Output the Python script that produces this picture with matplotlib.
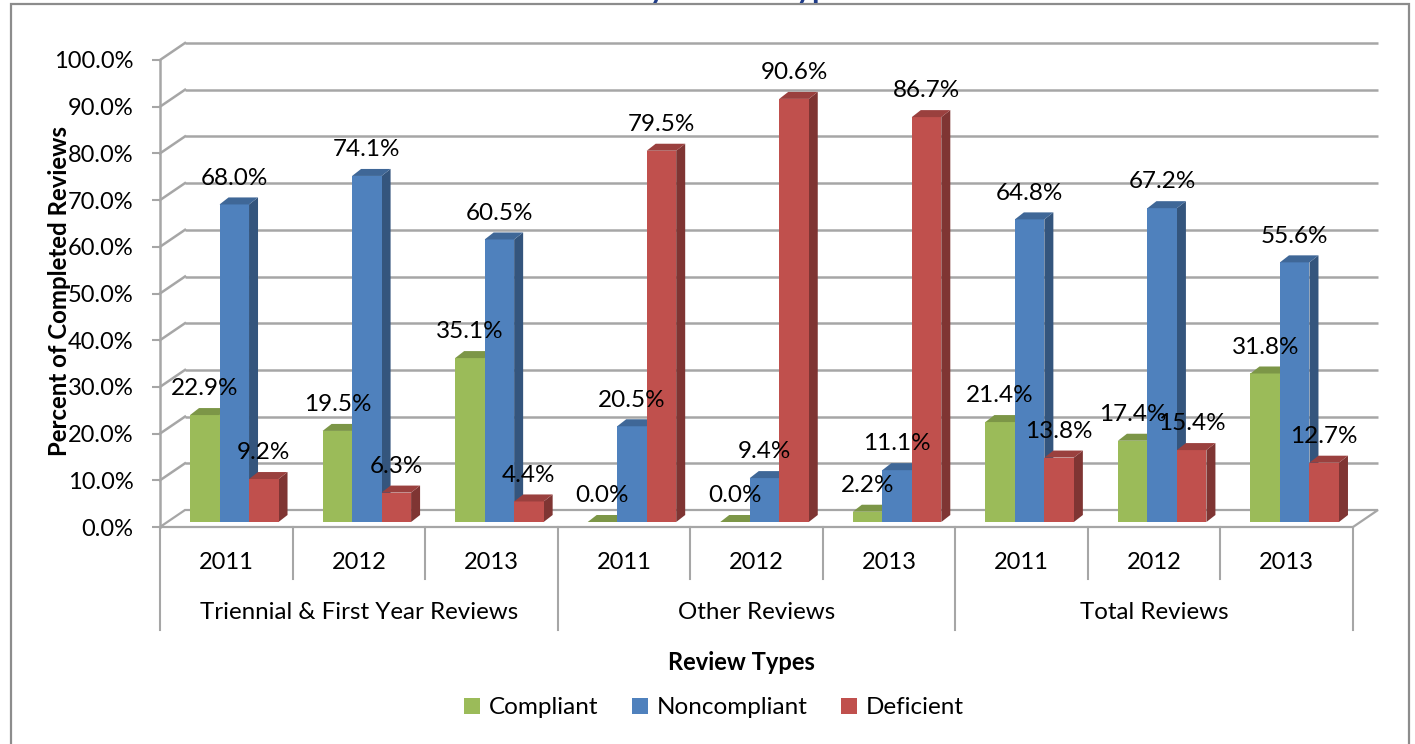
import matplotlib.pyplot as plt
from matplotlib.patches import Polygon, Patch, Rectangle
from matplotlib.ticker import PercentFormatter
from matplotlib.colors import to_rgb

plt.rcParams['font.family'] = ['Lato', 'DejaVu Sans']

# data
title = 'Review Results by Review Type'
groups = ['Triennial & First Year Reviews', 'Other Reviews', 'Total Reviews']
years = ['2011', '2012', '2013']
series = ['Compliant', 'Noncompliant', 'Deficient']
compliant = [22.9, 19.5, 35.1, 0.0, 0.0, 2.2, 21.4, 17.4, 31.8]
noncompliant = [68.0, 74.1, 60.5, 20.5, 9.4, 11.1, 64.8, 67.2, 55.6]
deficient = [9.2, 6.3, 4.4, 79.5, 90.6, 86.7, 13.8, 15.4, 12.7]
colors = ['#9BBB59', '#4F81BD', '#C0504D']

W, H = 1415, 744
fig = plt.figure(figsize=(W / 100, H / 100), dpi=100)
ax = fig.add_axes([160 / W, 217 / H, 1193 / W, 467 / H])
ax.set_xlim(0, 9)
ax.set_ylim(0, 100)

ux = 9 / 1193     # data units per pixel, x
uy = 100 / 467    # data units per pixel, y
wdx, wdy = 25 * ux, 17 * uy     # wall depth
bdx, bdy = 8 * ux, 5 * uy       # bar front offset
ddx, ddy = 9 * ux, 7 * uy       # bar depth
bw = 29.5 * ux

grid_c = '#a6a6a6'

# floor
floor = Polygon([(0, 0), (9, 0), (9 + wdx, wdy), (wdx, wdy)], closed=True,
                fc='white', ec=grid_c, lw=1.6, clip_on=False, zorder=1)
ax.add_patch(floor)
# back and side wall gridlines
for v in range(10, 101, 10):
    ax.plot([wdx, 9 + wdx], [v + wdy, v + wdy], color=grid_c, lw=1.8,
            clip_on=False, zorder=1, solid_capstyle='butt')
    ax.plot([0, wdx], [v, v + wdy], color=grid_c, lw=1.8, clip_on=False, zorder=1)


def shade(c, f):
    r, g, b = to_rgb(c)
    return (r * f, g * f, b * f)


values = [compliant, noncompliant, deficient]
z = 2
for i in range(9):
    for j, vals in enumerate(values):
        h = vals[i]
        x0 = i + 0.5 - 1.5 * bw + j * bw + bdx
        y0 = bdy
        c = colors[j]
        front = Polygon([(x0, y0), (x0 + bw, y0), (x0 + bw, y0 + h), (x0, y0 + h)],
                        fc=c, ec='none', zorder=z, clip_on=False)
        side = Polygon([(x0 + bw, y0), (x0 + bw + ddx, y0 + ddy),
                        (x0 + bw + ddx, y0 + h + ddy), (x0 + bw, y0 + h)],
                       fc=shade(c, 0.66), ec='none', zorder=z, clip_on=False)
        top = Polygon([(x0, y0 + h), (x0 + bw, y0 + h), (x0 + bw + ddx, y0 + h + ddy),
                       (x0 + ddx, y0 + h + ddy)],
                      fc=shade(c, 0.8), ec='none', zorder=z, clip_on=False)
        for p in (side, front, top):
            ax.add_patch(p)
        z += 1
        ax.text(x0 + bw / 2, h + 5.3, f'{h:.1f}%', ha='center', va='baseline',
                fontsize=17.5, color='black', zorder=100, clip_on=False)

# axes styling
for s in ['top', 'right', 'bottom']:
    ax.spines[s].set_visible(False)
ax.spines['left'].set_color(grid_c)
ax.spines['left'].set_linewidth(1.8)
ax.spines['left'].set_zorder(1)
ax.set_yticks(range(0, 101, 10))
ax.yaxis.set_major_formatter(PercentFormatter(decimals=1))
ax.tick_params(axis='y', direction='out', length=6, width=1.5, color=grid_c,
               labelsize=17, pad=13)
ax.set_xticks([])
ax.patch.set_visible(False)

# category axis
for k in range(10):
    bottom = -22.1 if k % 3 == 0 else -11.1
    ax.plot([k, k], [0, bottom], color=grid_c, lw=1.5, clip_on=False, zorder=1)
for i in range(9):
    ax.text(i + 0.5, -7.5, years[i % 3], ha='center', va='center', fontsize=17,
            clip_on=False)
for g, name in enumerate(groups):
    ax.text(g * 3 + 1.5, -18.4, name, ha='center', va='center', fontsize=17.4,
            clip_on=False)

ax.text((741 - 160) * ux, -29.1, 'Review Types', ha='center', va='center',
        fontsize=17, fontweight='bold', clip_on=False)
ax.text((60 - 160) * ux, 50.5, 'Percent of Completed Reviews', rotation=90,
        ha='center', va='center', fontsize=17.3, fontweight='bold', clip_on=False)

handles = [Patch(fc=c, ec='none') for c in colors]
fig.legend(handles, series, loc='center', bbox_to_anchor=(714 / W, 1 - 708 / H),
           ncol=3, frameon=False, fontsize=17.5, handlelength=0.65, handleheight=0.65,
           handletextpad=0.35, columnspacing=1.4)

# chart title sits above the visible area, only its descenders show
fig.text(634 / W, 1 + 2 / H, title, ha='center', va='baseline', fontsize=21.5,
         fontweight='bold', color='#1F3C88')

fig.patches.append(Rectangle((11 / W, -0.02), 1398 / W, 1 - 4 / H + 0.02,
                             transform=fig.transFigure, fill=False, ec='#8c8c8c',
                             lw=1.6, zorder=0))

fig.savefig('out.png', dpi=100)
